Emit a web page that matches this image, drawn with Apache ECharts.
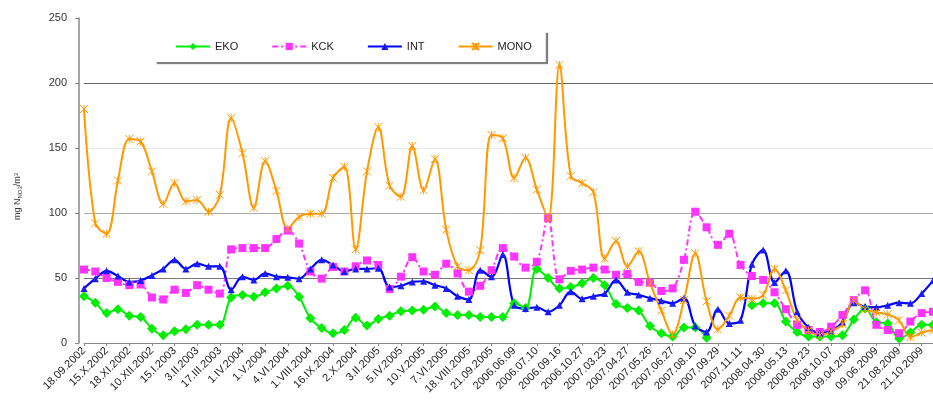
<!DOCTYPE html>
<html lang="en">
<head>
    <meta charset="UTF-8">
    <title>EKO KCK INT MONO</title>
    <style>
        body { margin: 0; overflow: hidden; background: #fff; }
        #chart { width: 933px; height: 407px; }
    </style>
</head>
<body>
    <div id="chart"></div>
    <script src="https://cdn.jsdelivr.net/npm/echarts@6/dist/echarts.min.js"></script>
    <script>
        // tick labels (every second sample is labelled)
        var tickLabels = ['18.09.2002', '15.X.2002', '18.XI.2002', '10.XII.2002', '15.I.2003', '3.II.2003',
            '17.III.2003', '1.IV.2004', '1.V.2004', '4.VI.2004', '1.VIII.2004', '16.IX.2004', '2.X.2004',
            '3.II.2005', '5.IV.2005', '10.V.2005', '7.VI.2005', '18.VIII.2005', '21.09.2005', '2006.06.09',
            '2006.07.10', '2006.09.16', '2006.10.27', '2007.03.23', '2007.04.27', '2007.05.26', '2007.06.27',
            '2007.08.10', '2007.09.29', '2007.11.11', '2008.04.30', '2008.05.13', '2008.09.23', '2008.10.07',
            '09.04.2009', '09.06.2009', '21.08.2009', '21.10.2009'];

        var eko = [36, 31, 23, 26, 21, 20, 11, 6, 9, 10.5,
            14, 14, 14, 35, 37, 35.5, 39, 42, 44, 35.5,
            19, 11.5, 7.5, 10, 19.5, 13.5, 18.5, 21, 24.5, 25,
            25.5, 28, 23, 21.5, 21.5, 20, 20, 20, 30.5, 27,
            57, 50, 42, 43, 46, 50, 44.5, 30, 27, 25,
            13, 7.5, 5, 12, 12, 4, null, null, null, 29,
            30.5, 30.5, 16.5, 8.5, 5, 5, 5, 6, 18, 26.5,
            16, 15, 3.5, 8, 14, 14];

        var kck = [56.5, 55, 50, 47, 44.5, 45, 35, 33.5, 41, 38.5,
            44.5, 41, 38, 72, 73, 73, 73, 80, 86.5, 76.5,
            55, 49.5, 58.5, 55, 59, 63.5, 60, 41.5, 51, 66,
            55, 52.5, 61, 53.5, 39.5, 44, 56, 73, 66.5, 58,
            62.5, 96, 49, 55.5, 56.5, 58, 56.5, 52.5, 53, 47,
            46.5, 40, 42, 64, 101, 89, 75.5, 84, 60, 51.5,
            48.5, 39, 26, 14, 10, 8.5, 12.5, 21.5, 33, 40.5,
            14, 10, 7.5, 16.5, 23, 24];

        var intData = [42, 49.5, 55.5, 51.5, 47, 48, 52, 57, 64, 57,
            61, 59, 59, 41, 51, 48.5, 53.5, 51, 50.5, 49.5,
            57, 64, 60, 55, 57, 57, 57.5, 43, 44, 47,
            47.5, 44.5, 42, 36, 33.5, 56, 51, 68, 29, 26.5,
            27.5, 24, 29, 39.5, 34, 36, 38, 48.5, 39, 37,
            34.5, 32.5, 30.5, 34.5, 13, 8.5, 26, 15, 17.5, 60.5,
            71.5, 46.5, 55.5, 24, 12, 7.5, 9.5, 16, 31, 28,
            27.5, 29, 31, 30.5, 38, 48];

        var mono = [180, 92, 84, 125, 157, 155, 132, 107, 123, 109,
            110, 101, 114, 173, 146, 104, 140, 117, 88, 97,
            99.5, 99.5, 127, 135.5, 72, 132, 166, 121, 112.5, 151.5,
            117.5, 141.5, 87, 59, 56, 71.5, 160, 157.5, 127, 142.5,
            118, 96, 214, 128.5, 123, 116, 65, 78.5, 59, 70.5,
            46, 25, 6.5, 33, 69, 32, 10.5, 21, 35, 34,
            37, 57, 40.5, 17.5, 9.5, 6, 9, 14.5, 32.5, 26,
            23.5, 22, 17.5, 4.5, 8, 10];

        var categories = mono.map(function (v, i) { return String(i); });

        var font = 'Liberation Sans, Arial, sans-serif';
        var starPath = 'path://M0,0L10,10M10,0L0,10M5,0L5,10';

        var myChart = echarts.init(document.getElementById('chart'));

        var option = {
            animation: false,
            textStyle: { fontFamily: font },
            legend: {
                left: 155,
                top: 31,
                padding: [10, 14, 10, 20],
                itemGap: 33,
                itemWidth: 34,
                itemHeight: 9,
                backgroundColor: '#fff',
                shadowColor: 'rgba(0,0,0,0.5)',
                shadowBlur: 1,
                shadowOffsetX: 2,
                shadowOffsetY: 2,
                textStyle: { fontSize: 11, color: '#222', fontFamily: font },
                data: ['EKO', 'KCK', 'INT', 'MONO']
            },
            grid: {
                left: 84,
                right: -5,
                top: 18,
                bottom: 64
            },
            xAxis: {
                type: 'category',
                boundaryGap: false,
                data: categories,
                axisLine: { lineStyle: { color: '#888', width: 1 } },
                axisTick: { show: true, interval: 1, length: 3, lineStyle: { color: '#888' } },
                axisLabel: {
                    interval: 1,
                    rotate: 45,
                    fontSize: 11,
                    color: '#222',
                    margin: 6,
                    formatter: function (v, i) { return tickLabels[i / 2] || ''; }
                },
                splitLine: { show: false }
            },
            yAxis: {
                type: 'value',
                min: 0,
                max: 250,
                interval: 50,
                offset: 5,
                name: 'mg N{s|NO3}/m{p|3}',
                nameLocation: 'middle',
                nameGap: 56,
                nameTextStyle: {
                    fontSize: 9,
                    color: '#333',
                    padding: [0, 32, 0, 0],
                    rich: {
                        s: { fontSize: 6, verticalAlign: 'bottom', color: '#333', padding: [4, 0, 0, 0] },
                        p: { fontSize: 6, verticalAlign: 'top', color: '#333' }
                    }
                },
                axisLine: { show: true, lineStyle: { color: '#888', width: 1.5 } },
                axisTick: { show: true, length: 4, lineStyle: { color: '#888' } },
                axisLabel: { fontSize: 11, color: '#333', margin: 12 },
                splitLine: {
                    show: true,
                    lineStyle: {
                        width: 1,
                        color: ['#999', '#777', '#aaa', '#e8e8e8', '#666', 'rgba(0,0,0,0)']
                    }
                }
            },
            series: [
                {
                    name: 'EKO',
                    type: 'line',
                    smooth: 0.35,
                    data: eko,
                    showAllSymbol: true,
                    symbol: 'diamond',
                    symbolSize: 10,
                    itemStyle: { color: '#00ee00' },
                    lineStyle: { color: '#00ee00', width: 2 }
                },
                {
                    name: 'KCK',
                    type: 'line',
                    smooth: 0.35,
                    data: kck,
                    showAllSymbol: true,
                    symbol: 'rect',
                    symbolSize: 8,
                    itemStyle: { color: '#ff33ff' },
                    lineStyle: { color: '#ff33ff', width: 2, type: [6, 3, 2, 3] }
                },
                {
                    name: 'INT',
                    type: 'line',
                    smooth: 0.35,
                    data: intData,
                    showAllSymbol: true,
                    symbol: 'triangle',
                    symbolSize: 7,
                    itemStyle: { color: '#1a1aff' },
                    lineStyle: { color: '#0000ff', width: 2.2 }
                },
                {
                    name: 'MONO',
                    type: 'line',
                    smooth: 0.35,
                    data: mono,
                    showAllSymbol: true,
                    symbol: starPath,
                    symbolSize: 8,
                    itemStyle: { color: '#ff9900', borderColor: '#ff9900', borderWidth: 1 },
                    lineStyle: { color: '#ff9900', width: 2 }
                }
            ]
        };

        myChart.setOption(option);
    </script>
</body>
</html>
